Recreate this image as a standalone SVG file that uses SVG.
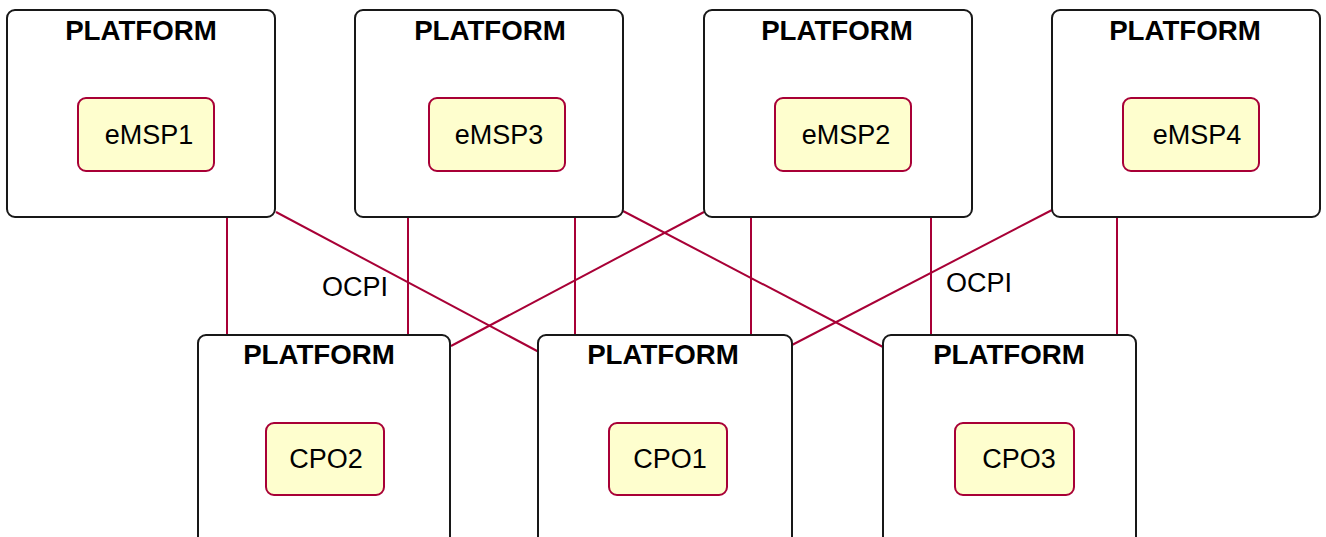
<svg xmlns="http://www.w3.org/2000/svg" width="1326" height="537" viewBox="0 0 1326 537">
<style>
.plat{fill:#fff;stroke:#181818;stroke-width:2}
.comp{fill:#fefece;stroke:#a80036;stroke-width:2}
.t{font-family:"Liberation Sans",Arial,sans-serif;fill:#000}
.pt{font-size:27.7px;font-weight:bold;text-anchor:middle}
.ct{font-size:27px;text-anchor:middle}
.lbl{font-size:27px}
.c line{stroke:#a80036;stroke-width:2}
</style>
<rect width="1326" height="537" fill="#fff"/>
<g class="c" id="connectors">
<line x1="227" y1="217" x2="227" y2="335"/>
<line x1="408" y1="217" x2="408" y2="335"/>
<line x1="575" y1="217" x2="575" y2="335"/>
<line x1="751" y1="217" x2="751" y2="335"/>
<line x1="931" y1="217" x2="931" y2="335"/>
<line x1="1117" y1="217" x2="1117" y2="335"/>
<line x1="276" y1="212" x2="539" y2="352"/>
<line x1="623" y1="211" x2="883" y2="347"/>
<line x1="704" y1="212" x2="451" y2="346"/>
<line x1="1052" y1="210" x2="792" y2="345"/>
<text class="t lbl" x="322" y="296">OCPI</text>
<text class="t lbl" x="946" y="292">OCPI</text>
</g>
<g id="platform1">
<rect class="plat" x="7" y="10" width="268" height="207" rx="8"/>
<text class="t pt" x="141" y="40">PLATFORM</text>
<g id="emsp1"><rect class="comp" x="78" y="98" width="136" height="73" rx="8"/>
<text class="t ct" x="149" y="144">eMSP1</text></g>
</g>
<g id="platform3">
<rect class="plat" x="355" y="10" width="268" height="207" rx="8"/>
<text class="t pt" x="490" y="40">PLATFORM</text>
<g id="emsp3"><rect class="comp" x="429" y="98" width="136" height="73" rx="8"/>
<text class="t ct" x="499" y="144">eMSP3</text></g>
</g>
<g id="platform2">
<rect class="plat" x="704" y="10" width="268" height="207" rx="8"/>
<text class="t pt" x="837" y="40">PLATFORM</text>
<g id="emsp2"><rect class="comp" x="775" y="98" width="136" height="73" rx="8"/>
<text class="t ct" x="846" y="144">eMSP2</text></g>
</g>
<g id="platform4">
<rect class="plat" x="1052" y="10" width="268" height="207" rx="8"/>
<text class="t pt" x="1185" y="40">PLATFORM</text>
<g id="emsp4"><rect class="comp" x="1123" y="98" width="136" height="73" rx="8"/>
<text class="t ct" x="1197" y="144">eMSP4</text></g>
</g>
<g id="platformCPO2">
<rect class="plat" x="198" y="335" width="252" height="215" rx="8"/>
<text class="t pt" x="319" y="364">PLATFORM</text>
<g id="cpo2"><rect class="comp" x="266" y="423" width="118" height="72" rx="8"/>
<text class="t ct" x="326" y="468">CPO2</text></g>
</g>
<g id="platformCPO1">
<rect class="plat" x="538" y="335" width="254" height="215" rx="8"/>
<text class="t pt" x="663" y="364">PLATFORM</text>
<g id="cpo1"><rect class="comp" x="609" y="423" width="118" height="72" rx="8"/>
<text class="t ct" x="670" y="468">CPO1</text></g>
</g>
<g id="platformCPO3">
<rect class="plat" x="883" y="335" width="253" height="215" rx="8"/>
<text class="t pt" x="1009" y="364">PLATFORM</text>
<g id="cpo3"><rect class="comp" x="955" y="423" width="119" height="72" rx="8"/>
<text class="t ct" x="1019" y="468">CPO3</text></g>
</g>
</svg>
